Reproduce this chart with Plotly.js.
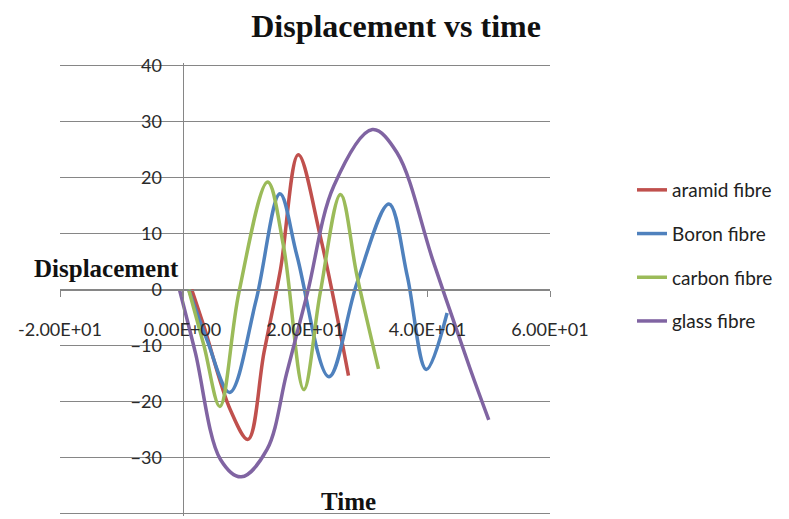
<!DOCTYPE html>
<html>
<head>
<meta charset="utf-8">
<script src="https://cdn.plot.ly/plotly-3.0.1.min.js"></script>
<style>html,body{margin:0;padding:0;background:#fff;}#chart{width:789px;height:519px;}</style>
</head>
<body>
<div id="chart"></div>
<script>
const seriesNames = ["aramid fibre", "Boron fibre", "carbon fibre", "glass fibre"];
const seriesColors = ["#C0504D", "#4F81BD", "#9BBB59", "#8064A2"];

const aramidX = [1.5, 3.5, 7.8, 10.7, 13.3, 16, 18.9, 22.5, 27.1];
const aramidY = [0, -6.6, -21.5, -26.8, -11.3, 3.6, 24.1, 9.5, -15.4];

const boronX = [1, 4, 7.7, 12, 15.9, 18.7, 23.9, 28.5, 33.7, 36.7, 39.8, 43.2];
const boronY = [0, -9, -18.4, -2, 17.1, 6, -15.6, 1.2, 15.3, 2.4, -14.3, -4.2];

const carbonX = [1, 3.5, 6.1, 9.2, 13.9, 16.5, 19.8, 22.5, 25.8, 28.5, 32];
const carbonY = [0, -10, -20.9, -0.6, 19.2, 7.7, -17.9, -0.5, 17, 2.4, -14.2];

const glassX = [-0.5, 2.1, 6.2, 9.6, 13.8, 17, 20.4, 24.7, 31, 35, 41, 47, 50];
const glassY = [0, -11.3, -30.4, -33.5, -28.6, -15, -0.6, 18.5, 28.6, 24.5, 4.8, -14.3, -23.3];

const xTickVals = [-20, 0, 20, 40, 60];
const xTickText = ["-2.00E+01", "0.00E+00", "2.00E+01", "4.00E+01", "6.00E+01"];
const yTickVals = [-40, -30, -20, -10, 0, 10, 20, 30, 40];

const xs = [aramidX, boronX, carbonX, glassX];
const ys = [aramidY, boronY, carbonY, glassY];

const traces = seriesNames.map((n, i) => ({
  type: "scatter", mode: "lines", name: n,
  x: xs[i], y: ys[i], legendgroup: "g" + i,
  line: {color: seriesColors[i], width: 3.5, shape: "spline", smoothing: 1}
}));

const tickFont = {family: "Lato, 'Open Sans', sans-serif", size: 18, color: "#2a2a2a"};
const titleFont = {family: "'Liberation Serif', 'Times New Roman', serif", size: 25, color: "#111"};

// plot area: x 60..550, y 63..516
const PT = 63, PH = 453, PL = 60, PW = 490;

const layout = {
  width: 789, height: 519,
  margin: {l: PL, r: 789 - PL - PW, t: PT, b: 519 - PT - PH},
  paper_bgcolor: "#fff", plot_bgcolor: "#fff",
  title: {text: "<b>Displacement vs time</b>", x: 0.502, xanchor: "center", y: 0.95, yanchor: "middle",
    font: {family: "'Liberation Serif', 'Times New Roman', serif", size: 32, color: "#111"}},
  xaxis: {
    range: [-20, 60], anchor: "free", position: 0.5,
    tickvals: xTickVals, ticktext: xTickText, tickfont: tickFont,
    showgrid: false, zeroline: false, showline: true, linecolor: "#868686", linewidth: 1,
    ticks: "outside", ticklen: 6, tickcolor: "#868686", ticklabelstandoff: 18
  },
  yaxis: {
    range: [-40.5, 40.5], anchor: "free", position: 0.25,
    tickvals: yTickVals, tickfont: tickFont,
    showgrid: true, gridcolor: "#868686", gridwidth: 1, zeroline: false,
    showline: true, linecolor: "#868686", linewidth: 1,
    ticks: "outside", ticklen: 5, tickcolor: "#868686", ticklabelstandoff: 12
  },
  legend: {x: (607 - PL) / PW + 0.051, xanchor: "left", y: (PT + PH - 171) / PH, yanchor: "top", tracegroupgap: 16,
    font: {family: "Lato, 'Open Sans', sans-serif", size: 19, color: "#222"}, bgcolor: "rgba(0,0,0,0)"},
  showlegend: true,
  annotations: [
    {text: "<b>Displacement</b>", xref: "paper", yref: "paper", x: (106 - PL) / PW, y: (PT + PH - 268) / PH,
     xanchor: "center", yanchor: "middle", showarrow: false, font: titleFont},
    {text: "<b>Time</b>", xref: "paper", yref: "paper", x: (348 - PL) / PW, y: (PT + PH - 501) / PH,
     xanchor: "center", yanchor: "middle", showarrow: false, font: titleFont}
  ]
};

Plotly.newPlot("chart", traces, layout, {displayModeBar: false, staticPlot: true});
</script>
</body>
</html>
